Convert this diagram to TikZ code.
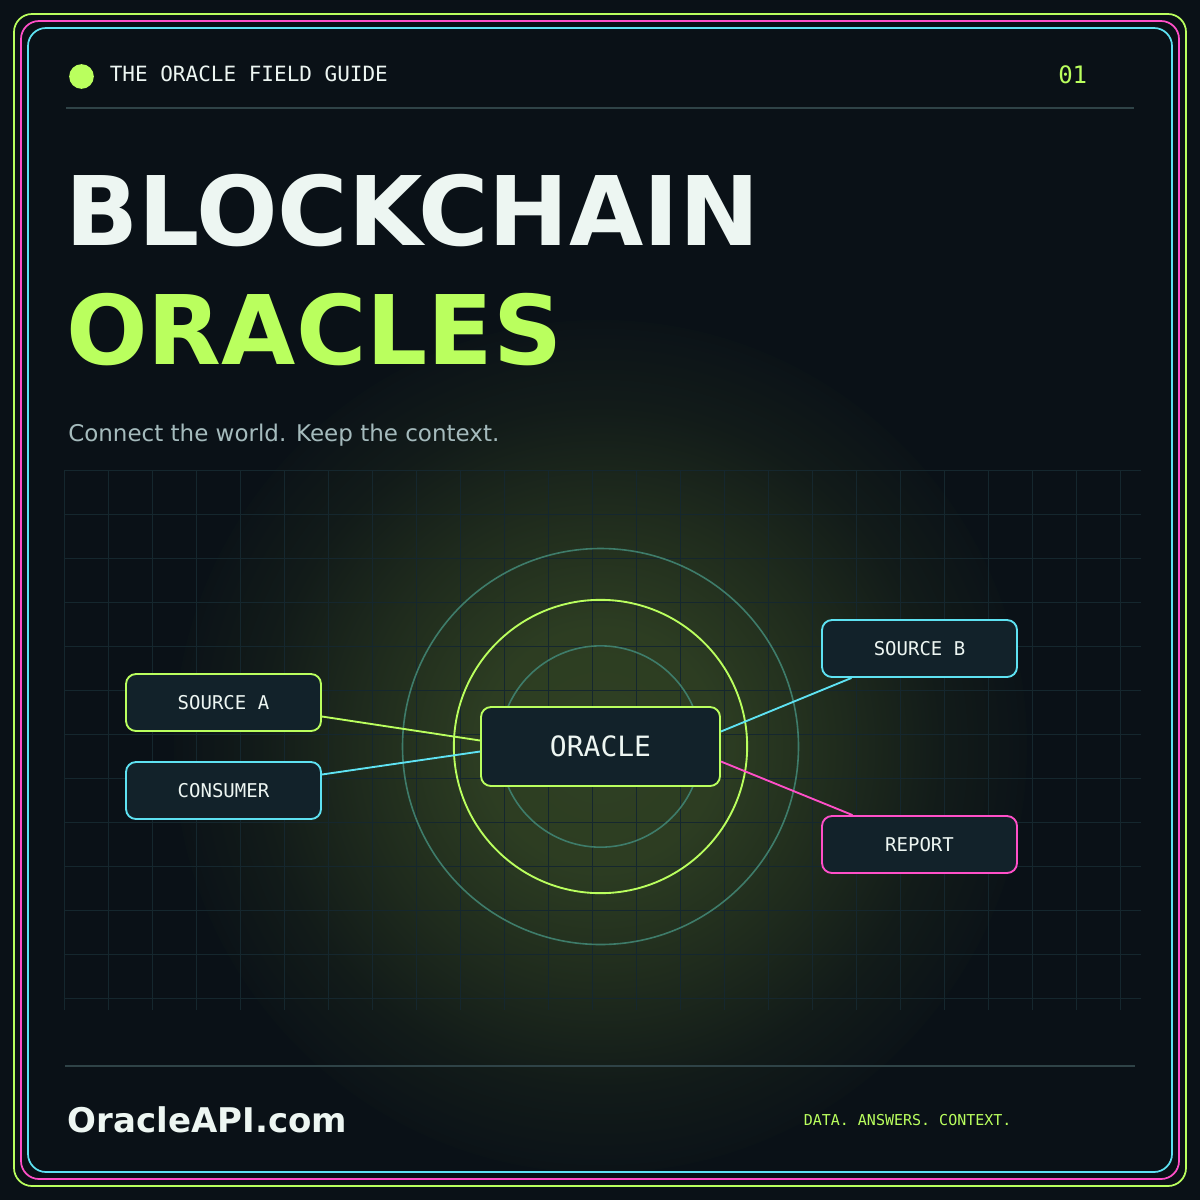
\documentclass[tikz,border=0pt]{standalone}
\usepackage{fontspec}
\setmainfont{DejaVu Sans}
\newfontfamily\monofont{DejaVu Sans Mono}
\usetikzlibrary{calc}

\definecolor{bg}{HTML}{0A1117}
\definecolor{glow}{HTML}{2F4023}
\definecolor{glowmid}{HTML}{1F2B1D}
\definecolor{glowedge}{HTML}{121B19}
\definecolor{lime}{HTML}{BAFF5E}
\definecolor{hotpink}{HTML}{FF4FC8}
\definecolor{skyline}{HTML}{5EE2F2}
\definecolor{nodefill}{HTML}{12222A}
\definecolor{ringteal}{HTML}{3E7C6A}
\definecolor{gridcol}{HTML}{15272E}
\definecolor{rulecol}{HTML}{2F4347}
\definecolor{paper}{HTML}{EDF6F2}
\definecolor{subgray}{HTML}{A5BBBD}

\pgfdeclareradialshading{oracleglow}{\pgfpoint{0bp}{0bp}}{color(0bp)=(glow); color(7bp)=(glow!85!glowmid); color(14bp)=(glowmid); color(20bp)=(glowedge); color(26bp)=(bg); color(50bp)=(bg)}

\tikzset{
  box/.style={draw, fill=nodefill, rounded corners=7.5pt, line width=1.4pt,
    minimum width=146.25pt, minimum height=42.75pt, inner sep=0pt,
    text=paper, font=\monofont\fontsize{14.25}{16}\selectfont},
  hubbox/.style={box, draw=lime, minimum width=179.25pt, minimum height=59.25pt,
    font=\monofont\fontsize{21}{24}\selectfont},
  wire/.style={line width=1.4pt},
  ring/.style={ringteal, line width=1.2pt},
  frame/.style={line width=1.3pt, rounded corners=13.5pt},
  label/.style={anchor=base west, inner sep=0pt}
}

\begin{document}
\begin{tikzpicture}[x=0.75pt, y=-0.75pt]
	\useasboundingbox (0,0) rectangle (1200,1200);
	\fill[bg] (0,0) rectangle (1200,1200);
	\coordinate (hub) at (600.5,746.5);
	\begin{scope}
		\clip (0,0) rectangle (1200,1200);
		\shade[shading=oracleglow] (hub) circle (320pt);
	\end{scope}
	\foreach \x in {64,108,...,1120}
		\draw[gridcol, line width=0.75pt] (\x,470) -- (\x,1010);
	\foreach \y in {470,514,...,998}
		\draw[gridcol, line width=0.75pt] (64,\y) -- (1141,\y);
	\draw[ring] (hub) circle (148.5pt);
	\draw[lime, line width=1.4pt] (hub) circle (110pt);
	\draw[ring] (hub) circle (75.5pt);

	\node[hubbox] (oracle) at (hub) {ORACLE};
	\node[box, draw=lime] (srcA) at (223.5,702.5) {SOURCE A};
	\node[box, draw=skyline] (consumer) at (223.5,790.5) {CONSUMER};
	\node[box, draw=skyline] (srcB) at (919.5,648.5) {SOURCE B};
	\node[box, draw=hotpink] (report) at (919.5,844.5) {REPORT};
	\draw[wire, lime] ($(srcA.east)+(0,14)$) -- ($(oracle.west)+(0,-6)$);
	\draw[wire, skyline] ($(consumer.east)+(0,-16)$) -- ($(oracle.west)+(0,5)$);
	\draw[wire, skyline] ($(oracle.east)+(0,-15)$) -- ($(srcB.south)+(-68,0)$);
	\draw[wire, hotpink] ($(oracle.east)+(0,15)$) -- ($(report.north)+(-67,0)$);

	\node[circle, fill=lime, minimum size=18.5pt, inner sep=0pt] (dot) at (81.5,76.5) {};
	\node[label, text=paper, font=\monofont\fontsize{15.75}{18}\selectfont] (guide) at (109.5,81) {THE ORACLE FIELD GUIDE};
	\node[label, text=lime, font=\monofont\fontsize{18}{20}\selectfont] (issue) at (1058,83) {01};
	\draw[rulecol, line width=0.8pt] (66,108) -- (1134,108);
	\node[label, text=paper, font=\bfseries\fontsize{72}{80}\selectfont] (title) at (65,245) {BLOCKCHAIN};
	\node[label, text=lime, font=\bfseries\fontsize{72}{80}\selectfont] (titleB) at (66,364) {ORACLES};
	\node[label, text=subgray, font=\fontsize{17.25}{20}\selectfont] (tagline) at (68,441) {Connect the world. Keep the context.};

	\draw[rulecol, line width=1.5pt] (65,1066) -- (1135,1066);
	\node[label, text=paper, font=\bfseries\fontsize{25.5}{30}\selectfont] (site) at (67.5,1132) {OracleAPI.com};
	\node[label, text=lime, font=\monofont\fontsize{11.25}{13}\selectfont] (motto) at (803.5,1125) {DATA. ANSWERS. CONTEXT.};

	\draw[frame, lime] (14,14) rectangle (1186,1186);
	\draw[frame, hotpink] (21,21) rectangle (1179,1179);
	\draw[frame, skyline] (28,28) rectangle (1172,1172);
\end{tikzpicture}
\end{document}
